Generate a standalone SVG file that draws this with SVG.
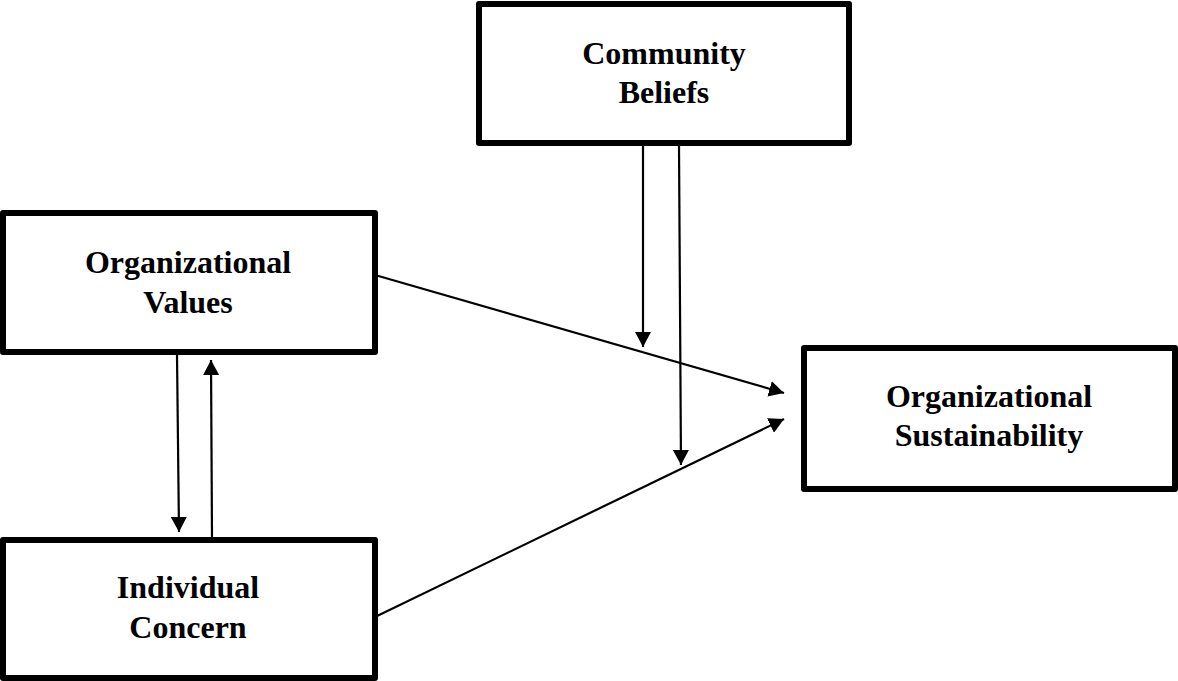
<svg xmlns="http://www.w3.org/2000/svg" width="1178" height="681" viewBox="0 0 1178 681">
<style>
.box{fill:#fff;stroke:#000;stroke-width:6;stroke-linejoin:round}
.lbl{font-family:"Liberation Serif","Times New Roman",serif;font-weight:bold;font-size:32px;fill:#000;text-anchor:middle}
.conn{stroke:#000;stroke-width:2.2;fill:none;marker-end:url(#ah)}
</style>
<defs>
<marker id="ah" markerUnits="userSpaceOnUse" markerWidth="16" markerHeight="16" refX="15" refY="8" orient="auto">
<path d="M0,0 L15,8 L0,16 z" fill="#000"/>
</marker>
</defs>
<rect width="1178" height="681" fill="#fff"/>
<g id="connectors">
<line class="conn" x1="375" y1="275" x2="784" y2="393"/>
<line class="conn" x1="375" y1="617" x2="784" y2="419"/>
<line class="conn" x1="643" y1="146" x2="643" y2="347"/>
<line class="conn" x1="679" y1="146" x2="681" y2="465"/>
<line class="conn" x1="177" y1="355" x2="179" y2="532"/>
<line class="conn" x1="212" y1="537" x2="211" y2="360"/>
</g>
<g id="community-beliefs">
<rect class="box" x="479" y="4" width="370" height="139"/>
<text class="lbl" x="664" y="64">Community</text>
<text class="lbl" x="664" y="103">Beliefs</text>
</g>
<g id="organizational-values">
<rect class="box" x="3" y="213" width="372" height="139"/>
<text class="lbl" x="188" y="273">Organizational</text>
<text class="lbl" x="188" y="313">Values</text>
</g>
<g id="individual-concern">
<rect class="box" x="3" y="540" width="372" height="138"/>
<text class="lbl" x="188" y="598">Individual</text>
<text class="lbl" x="188" y="638">Concern</text>
</g>
<g id="organizational-sustainability">
<rect class="box" x="804" y="348" width="371" height="141"/>
<text class="lbl" x="989" y="407">Organizational</text>
<text class="lbl" x="989" y="446">Sustainability</text>
</g>
</svg>
